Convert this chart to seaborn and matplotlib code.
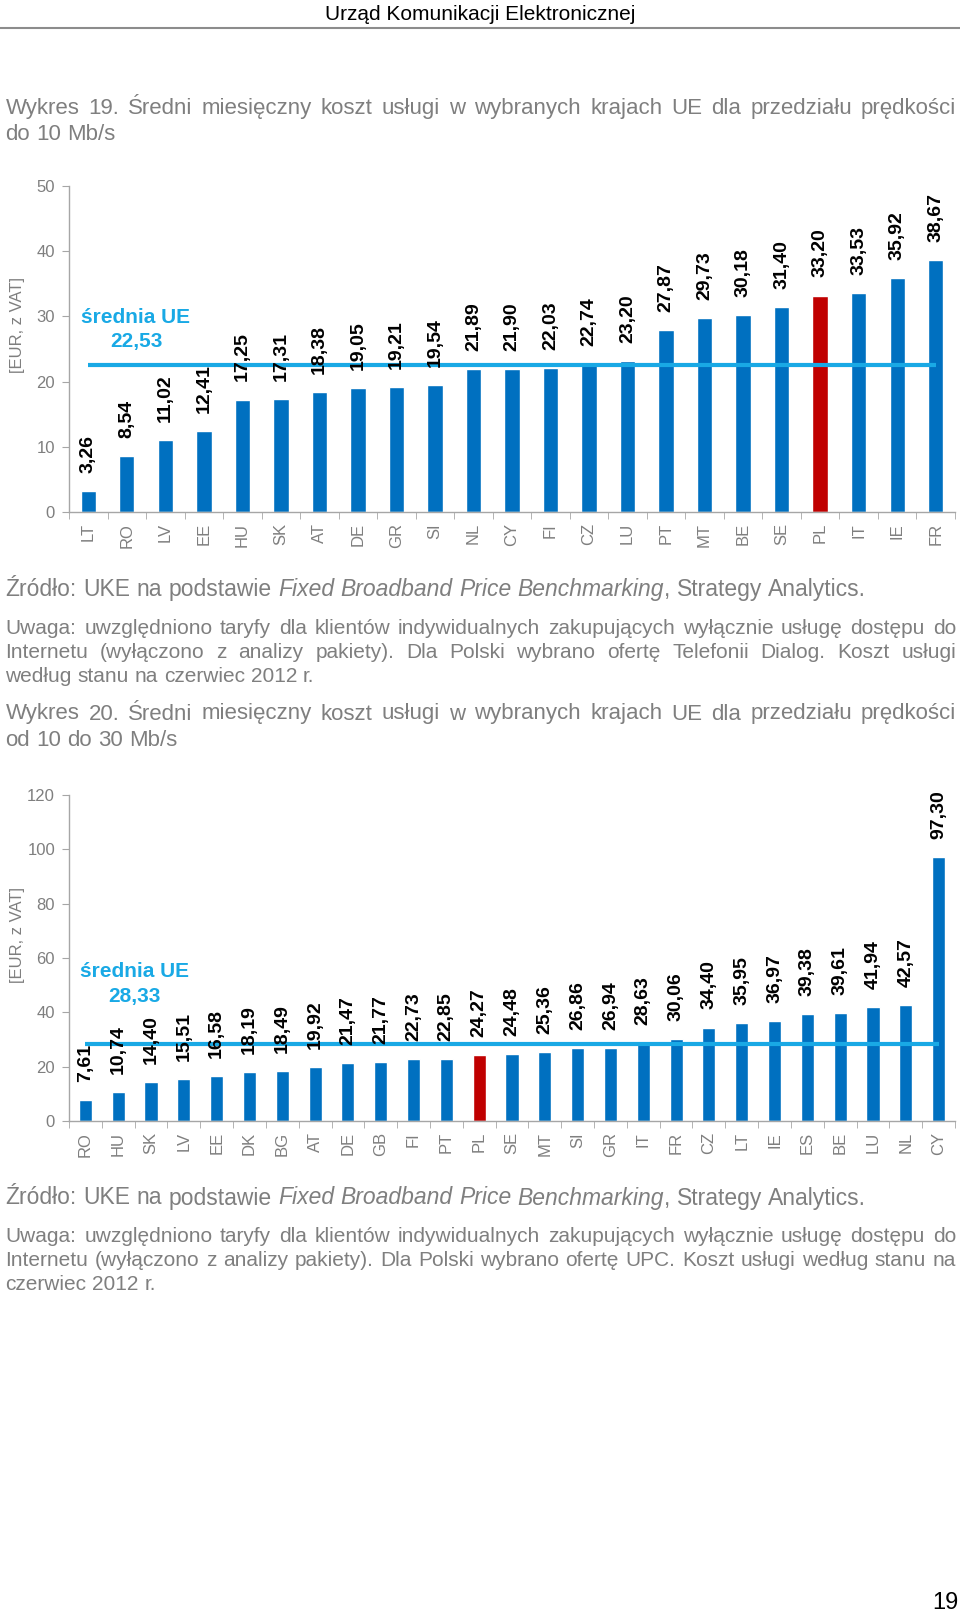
import numpy as np
import pandas as pd
import matplotlib
matplotlib.use('Agg')
import matplotlib.pyplot as plt
from matplotlib.lines import Line2D
import seaborn as sns

W, H = 960, 1612

# Wykres 19 - do 10 Mb/s
countries_1 = ['LT', 'RO', 'LV', 'EE', 'HU', 'SK', 'AT', 'DE', 'GR', 'SI', 'NL', 'CY',
               'FI', 'CZ', 'LU', 'PT', 'MT', 'BE', 'SE', 'PL', 'IT', 'IE', 'FR']
cost_1 = [3.26, 8.54, 11.02, 12.41, 17.25, 17.31, 18.38, 19.05, 19.21, 19.54, 21.89, 21.90,
          22.03, 22.74, 23.20, 27.87, 29.73, 30.18, 31.40, 33.20, 33.53, 35.92, 38.67]
avg_1 = 22.53
yticks_1 = [0, 10, 20, 30, 40, 50]

# Wykres 20 - od 10 do 30 Mb/s
countries_2 = ['RO', 'HU', 'SK', 'LV', 'EE', 'DK', 'BG', 'AT', 'DE', 'GB', 'FI', 'PT', 'PL', 'SE',
               'MT', 'SI', 'GR', 'IT', 'FR', 'CZ', 'LT', 'IE', 'ES', 'BE', 'LU', 'NL', 'CY']
cost_2 = [7.61, 10.74, 14.40, 15.51, 16.58, 18.19, 18.49, 19.92, 21.47, 21.77, 22.73, 22.85, 24.27, 24.48,
          25.36, 26.86, 26.94, 28.63, 30.06, 34.40, 35.95, 36.97, 39.38, 39.61, 41.94, 42.57, 97.30]
avg_2 = 28.33
yticks_2 = [0, 20, 40, 60, 80, 100, 120]

BLUE = '#0070C0'
RED = '#C00000'
LIGHT = '#19A9E5'
GREY = '#7F7F7F'
AXIS = '#A6A6A6'

sns.set_style('white')
plt.rcParams['font.family'] = ['Liberation Sans', 'DejaVu Sans']

fig = plt.figure(figsize=(W / 100, H / 100), dpi=100)
renderer = fig.canvas.get_renderer()


def fy(y):
    return 1 - y / H


def text_width(s, **kw):
    t = fig.text(0, 0, s, **kw)
    w = t.get_window_extent(renderer).width
    t.remove()
    return w


def text_line(y, parts, justify=False, size=15, color=GREY, x0=5.5, x1=956):
    # parts: list of (word, style); words starting with ',' stick to the previous one
    widths = [text_width(w, fontsize=size, style=st) for w, st in parts]
    space = text_width('a a', fontsize=size) - text_width('aa', fontsize=size)
    n_gaps = sum(1 for w, _ in parts[1:] if not w.startswith(','))
    gap = (x1 - x0 - sum(widths)) / n_gaps if justify else space
    x = x0
    for i, ((w, st), wd) in enumerate(zip(parts, widths)):
        if i > 0:
            x += 0 if w.startswith(',') else gap
        fig.text(x / W, fy(y), w, fontsize=size, style=st, color=color, ha='left', va='baseline')
        x += wd


def words(s, style='normal'):
    return [(w, style) for w in s.split()]


def draw_chart(rect, countries, values, avg, yticks, avg_pos, ylabel_y):
    ax = fig.add_axes(rect)
    df = pd.DataFrame({'kraj': countries, 'koszt': values})
    pal = {c: (RED if c == 'PL' else BLUE) for c in countries}
    sns.barplot(data=df, x='kraj', y='koszt', hue='kraj', palette=pal, width=0.4,
                saturation=1, legend=False, ax=ax, zorder=2)
    for c in ax.containers:
        ax.bar_label(c, fmt=lambda v: f'{v:.2f}'.replace('.', ','), rotation=90, padding=13,
                     fontsize=14, fontweight='bold', color='black', zorder=6)
    ax.hlines(avg, 0, len(countries) - 1, color=LIGHT, lw=3, zorder=4)
    ax.text(avg_pos[0], avg_pos[1], 'średnia UE\n' + f'{avg:.2f}'.replace('.', ','),
            transform=ax.transAxes, ha='center', va='center', multialignment='center',
            fontsize=15, fontweight='bold', color=LIGHT, linespacing=1.35)

    ax.set_xlim(-0.5, len(countries) - 0.5)
    ax.set_ylim(yticks[0], yticks[-1])
    ax.set_yticks(yticks)
    ax.set_xticks(np.arange(-0.5, len(countries), 1), minor=True)
    ax.set_xlabel('')
    ax.set_ylabel('')
    sns.despine(ax=ax)
    for s in ['left', 'bottom']:
        ax.spines[s].set_color(AXIS)
        ax.spines[s].set_linewidth(1)
    ax.tick_params(axis='y', length=5, color=AXIS, labelcolor=GREY, labelsize=12, pad=5, left=True)
    ax.tick_params(axis='x', which='major', length=0, labelcolor=GREY, labelsize=12,
                   labelrotation=90, pad=8)
    ax.tick_params(axis='x', which='minor', length=5, color=AXIS, bottom=True)
    fig.text(18 / W, fy(ylabel_y), '[EUR, z VAT]', rotation=90, ha='center', va='center',
             fontsize=12, color=GREY)
    return ax


source = (words('Źródło: UKE na podstawie') + words('Fixed Broadband Price Benchmarking', 'italic')
          + words(', Strategy Analytics.'))

# naglowek strony
fig.text(480 / W, fy(20), 'Urząd Komunikacji Elektronicznej', ha='center', va='baseline',
         fontsize=15, color='black')
fig.add_artist(Line2D([0, 1], [fy(28), fy(28)], transform=fig.transFigure, color='#8C8C8C', lw=1.5))

# Wykres 19
text_line(114, words('Wykres 19. Średni miesięczny koszt usługi w wybranych krajach UE dla przedziału prędkości'),
          justify=True, size=16)
text_line(140, words('do 10 Mb/s'), size=16)
draw_chart([69 / W, fy(512), 886 / W, 326 / H], countries_1, cost_1, avg_1, yticks_1,
           (0.0756, 0.56), 325)
text_line(596.5, source, size=16.5)
text_line(633.5, words('Uwaga: uwzględniono taryfy dla klientów indywidualnych zakupujących wyłącznie usługę dostępu do'), justify=True)
text_line(658, words('Internetu (wyłączono z analizy pakiety). Dla Polski wybrano ofertę Telefonii Dialog. Koszt usługi'), justify=True)
text_line(682.5, words('według stanu na czerwiec 2012 r.'))

# Wykres 20
text_line(719.5, words('Wykres 20. Średni miesięczny koszt usługi w wybranych krajach UE dla przedziału prędkości'),
          justify=True, size=16)
text_line(746.5, words('od 10 do 30 Mb/s'), size=16)
draw_chart([69 / W, fy(1121), 886 / W, 326 / H], countries_2, cost_2, avg_2, yticks_2,
           (0.0739, 0.42), 935)
text_line(1204.5, source, size=16.5)
text_line(1241.5, words('Uwaga: uwzględniono taryfy dla klientów indywidualnych zakupujących wyłącznie usługę dostępu do'), justify=True)
text_line(1265.5, words('Internetu (wyłączono z analizy pakiety). Dla Polski wybrano ofertę UPC. Koszt usługi według stanu na'), justify=True)
text_line(1290.5, words('czerwiec 2012 r.'))

# numer strony
fig.text(958 / W, fy(1609), '19', ha='right', va='baseline', fontsize=17, color='black')

fig.savefig('out.png', dpi=100)
